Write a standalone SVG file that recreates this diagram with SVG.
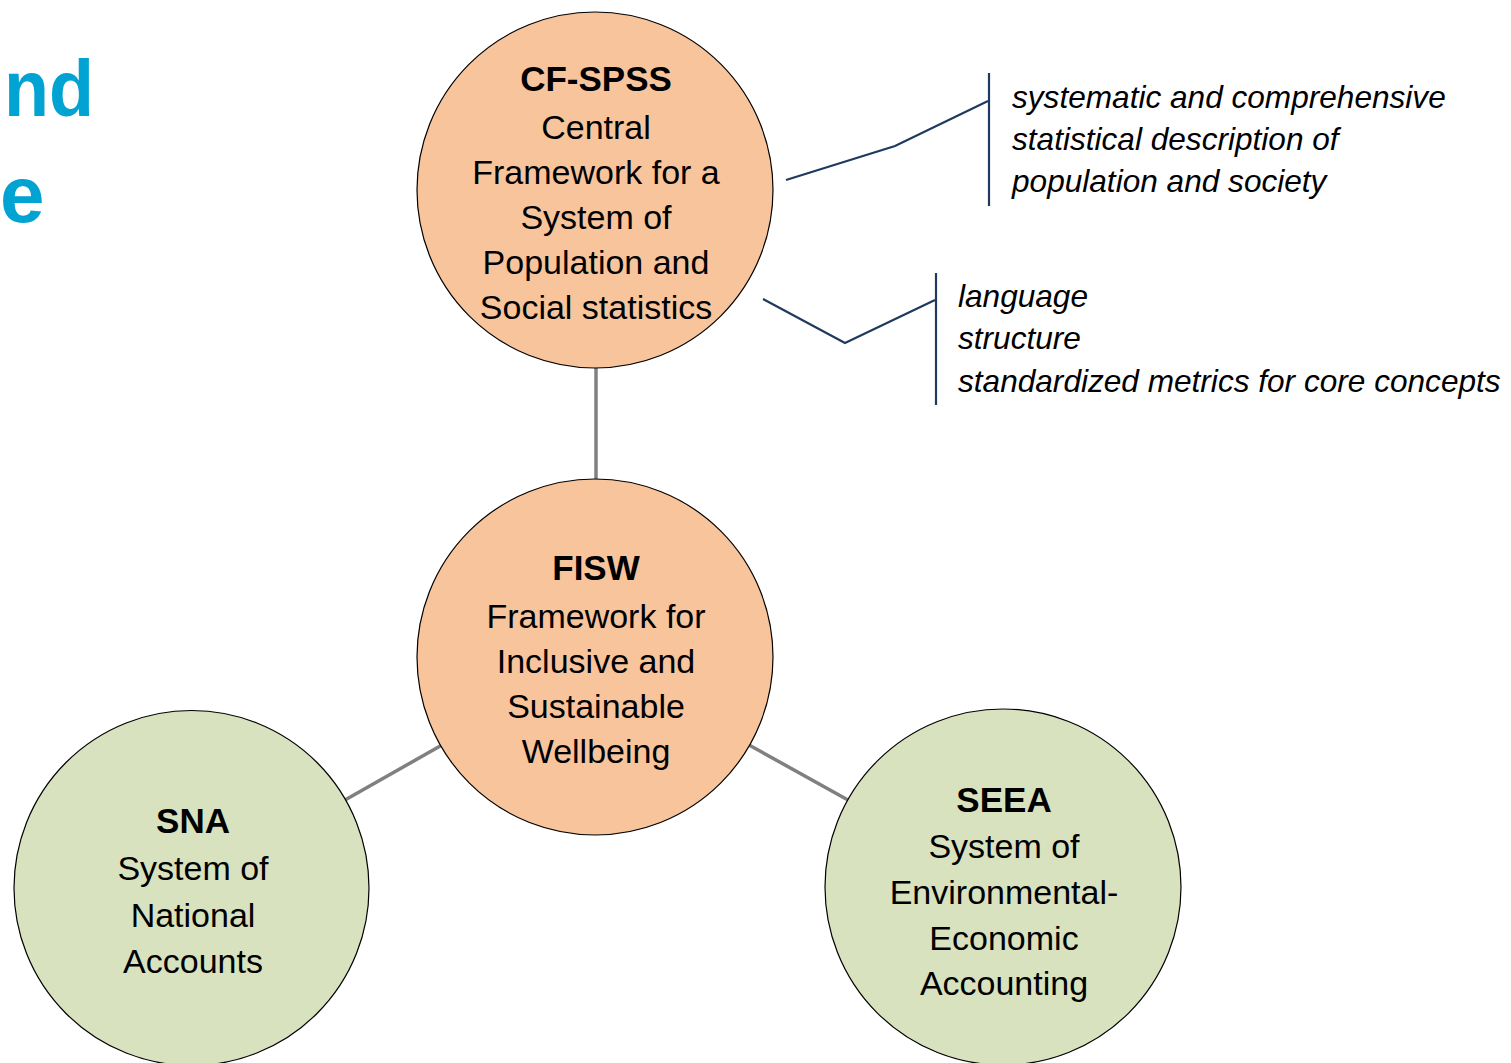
<svg xmlns="http://www.w3.org/2000/svg" width="1511" height="1063" viewBox="0 0 1511 1063">
<style>
.peach{fill:#F8C49C;stroke:#000;stroke-width:1.2}
.green{fill:#D8E2BF;stroke:#000;stroke-width:1.2}
.t{font-family:"Liberation Sans",Arial,sans-serif;font-size:34px;fill:#000;text-anchor:middle}
.b{font-weight:bold;font-size:35px}
.call{font-family:"Liberation Sans",Arial,sans-serif;font-size:31.6px;font-style:italic;fill:#000}
.conn{stroke:#808080;stroke-width:3.5;fill:none}
.lead{stroke:#1F3A5F;stroke-width:2.2;fill:none}
.title{font-family:"Liberation Sans",Arial,sans-serif;font-weight:bold;font-size:80px;fill:#00A3D1}
</style>
<rect width="1511" height="1063" fill="#fff"/>
<g id="title">
<text class="title" x="94" y="116" text-anchor="end" textLength="90" lengthAdjust="spacingAndGlyphs">nd</text>
<text class="title" x="0" y="222">e</text>
</g>
<g id="connectors">
<line class="conn" x1="596" y1="367" x2="596" y2="480"/>
<line class="conn" x1="442" y1="745" x2="345" y2="800"/>
<line class="conn" x1="749" y1="745" x2="848" y2="800"/>
<polyline class="lead" points="786,180 895,146 988,101"/>
<line class="lead" x1="989" y1="73" x2="989" y2="206"/>
<polyline class="lead" points="763,299 845,343 935,300"/>
<line class="lead" x1="936" y1="273" x2="936" y2="405"/>
</g>
<g id="cfspss">
<circle class="peach" cx="595" cy="190" r="178"/>
<text class="t b" x="596" y="91">CF-SPSS</text>
<text class="t" x="596" y="139">Central</text>
<text class="t" x="596" y="184">Framework for a</text>
<text class="t" x="596" y="229">System of</text>
<text class="t" x="596" y="274">Population and</text>
<text class="t" x="596" y="319">Social statistics</text>
</g>
<g id="fisw">
<circle class="peach" cx="595" cy="657" r="178"/>
<text class="t b" x="596" y="580">FISW</text>
<text class="t" x="596" y="628">Framework for</text>
<text class="t" x="596" y="673">Inclusive and</text>
<text class="t" x="596" y="718">Sustainable</text>
<text class="t" x="596" y="763">Wellbeing</text>
</g>
<g id="sna">
<circle class="green" cx="191.5" cy="888" r="177.5"/>
<text class="t b" x="193" y="833">SNA</text>
<text class="t" x="193" y="880">System of</text>
<text class="t" x="193" y="927">National</text>
<text class="t" x="193" y="973">Accounts</text>
</g>
<g id="seea">
<circle class="green" cx="1003" cy="887" r="178"/>
<text class="t b" x="1004" y="812">SEEA</text>
<text class="t" x="1004" y="858">System of</text>
<text class="t" x="1004" y="904">Environmental-</text>
<text class="t" x="1004" y="950">Economic</text>
<text class="t" x="1004" y="995">Accounting</text>
</g>
<g id="callout1">
<text class="call" x="1012" y="108">systematic and comprehensive</text>
<text class="call" x="1012" y="150">statistical description of</text>
<text class="call" x="1012" y="192">population and society</text>
</g>
<g id="callout2">
<text class="call" x="958" y="307">language</text>
<text class="call" x="958" y="349">structure</text>
<text class="call" x="958" y="392">standardized metrics for core concepts</text>
</g>
</svg>
